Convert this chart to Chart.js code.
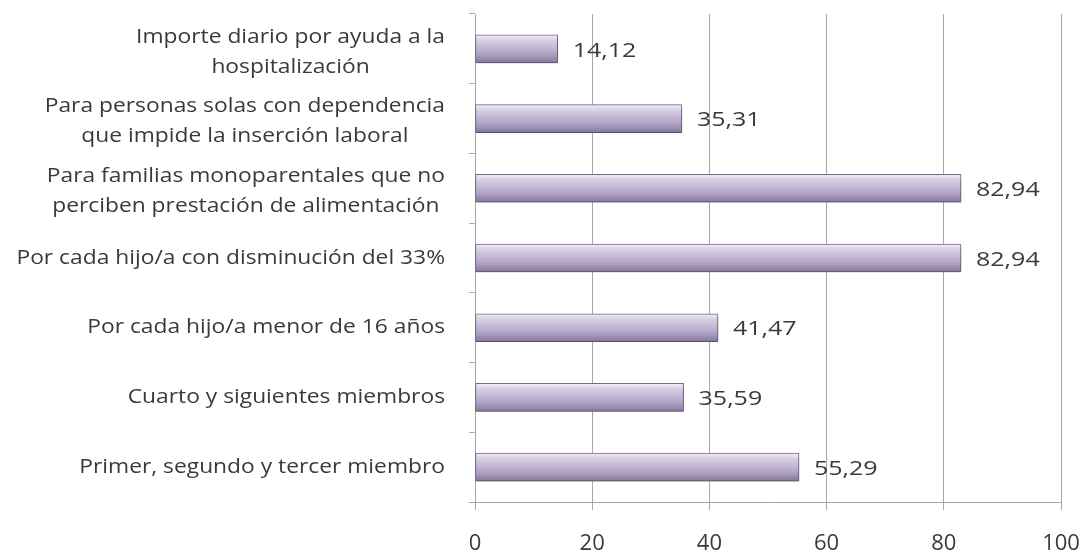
<!DOCTYPE html>
<html>
<head>
<meta charset="utf-8">
<script src="https://cdn.jsdelivr.net/npm/chart.js@4/dist/chart.umd.min.js"></script>
<style>
  html, body { margin: 0; padding: 0; background: #fff; overflow: hidden; }
  #wrap { width: 1085px; height: 554px; }
  canvas { display: block; }
</style>
</head>
<body>
<div id="wrap"><canvas id="chart"></canvas></div>
<script>
// categories, top to bottom
let labels = [
  ['Importe diario por ayuda a la', 'hospitalización'],
  ['Para personas solas con dependencia', 'que impide la inserción laboral'],
  ['Para familias monoparentales que no', 'perciben prestación de alimentación'],
  ['Por cada hijo/a con disminución del 33%'],
  ['Por cada hijo/a menor de 16 años'],
  ['Cuarto y siguientes miembros'],
  ['Primer, segundo y tercer miembro']
];
let values = [14.12, 35.31, 82.94, 82.94, 41.47, 35.59, 55.29];
let xTicks = [0, 20, 40, 60, 80, 100];

const FONT = '"Open Sans", Lato, sans-serif';
const TXT = '#3a3a3a';
const GRID = '#a8a8a8';

const fmt = v => v.toFixed(2).replace('.', ',');

// text drawn slightly wider than the font's natural width
function wideText(ctx, str, x, y, align, sx) {
  const w = ctx.measureText(str).width * sx;
  const left = align === 'left' ? x : align === 'right' ? x - w : x - w / 2;
  ctx.save();
  ctx.translate(left, y);
  ctx.scale(sx, 1);
  ctx.textAlign = 'left';
  ctx.fillText(str, 0, 0);
  ctx.restore();
  return w;
}

// lavender bars with a vertical shading and a soft drop shadow
const barLook = {
  id: 'barLook',
  beforeDatasetDraw(chart, args) {
    const ctx = chart.ctx;
    chart.getDatasetMeta(args.index).data.forEach(bar => {
      const top = bar.y - bar.height / 2, bot = bar.y + bar.height / 2;
      const g = ctx.createLinearGradient(0, top, 0, bot);
      g.addColorStop(0, '#f3eff7');
      g.addColorStop(0.2, '#d8cee4');
      g.addColorStop(0.65, '#b4a6c8');
      g.addColorStop(1, '#867899');
      bar.options.backgroundColor = g;
    });
    ctx.save();
    ctx.shadowColor = 'rgba(0,0,0,0.28)';
    ctx.shadowBlur = 4;
    ctx.shadowOffsetY = 3;
    ctx.shadowOffsetX = 1;
  },
  afterDatasetDraw(chart) {
    chart.ctx.restore();
  },
  afterDatasetsDraw(chart) {
    const ctx = chart.ctx;
    ctx.save();
    ctx.fillStyle = TXT;
    ctx.textBaseline = 'middle';
    ctx.font = '20px ' + FONT;
    chart.getDatasetMeta(0).data.forEach((bar, i) => {
      wideText(ctx, fmt(values[i]), bar.x + 15, bar.y + 2, 'left', 1.25);
    });
    // category labels: each block centred, right edge next to the axis
    const sx = 1.14;
    const y = chart.scales.y;
    const right = y.right - 30;
    const lh = 30;
    labels.forEach((lines, i) => {
      const w = Math.max(...lines.map(l => ctx.measureText(l).width)) * sx;
      const cx = right - w / 2;
      const cy = y.getPixelForTick(i) + (lines.length > 1 ? 3 : 0);
      lines.forEach((l, k) => {
        wideText(ctx, l, cx, cy + (k - (lines.length - 1) / 2) * lh, 'center', sx);
      });
    });
    ctx.restore();
  }
};

new Chart(document.getElementById('chart'), {
  type: 'bar',
  data: {
    labels: labels,
    datasets: [{
      data: values,
      // scriptable, so each bar keeps its own options object
      backgroundColor: () => '#b5a6c9',
      borderColor: '#76688a',
      borderWidth: 1,
      borderSkipped: false,
      barThickness: 28
    }]
  },
  options: {
    indexAxis: 'y',
    responsive: true,
    maintainAspectRatio: false,
    animation: false,
    layout: { padding: { top: 14, right: 24, left: 0, bottom: 0 } },
    plugins: {
      legend: { display: false },
      tooltip: { enabled: false }
    },
    scales: {
      x: {
        min: 0,
        max: 100,
        afterBuildTicks: s => { s.ticks = xTicks.map(v => ({ value: v })); },
        grid: { color: GRID, tickLength: 8, lineWidth: 1 },
        border: { color: GRID },
        ticks: { color: TXT, font: { family: FONT, size: 22 }, padding: 21 },
        afterFit: s => {
          s.height = 52;
          s.paddingLeft = 0;
          s.paddingRight = 0;
        }
      },
      y: {
        grid: { drawOnChartArea: false, color: GRID, tickLength: 6, offset: true },
        border: { color: GRID },
        ticks: { display: false },
        afterFit: s => { s.width = 475; }
      }
    }
  },
  plugins: [barLook]
});
</script>
</body>
</html>
